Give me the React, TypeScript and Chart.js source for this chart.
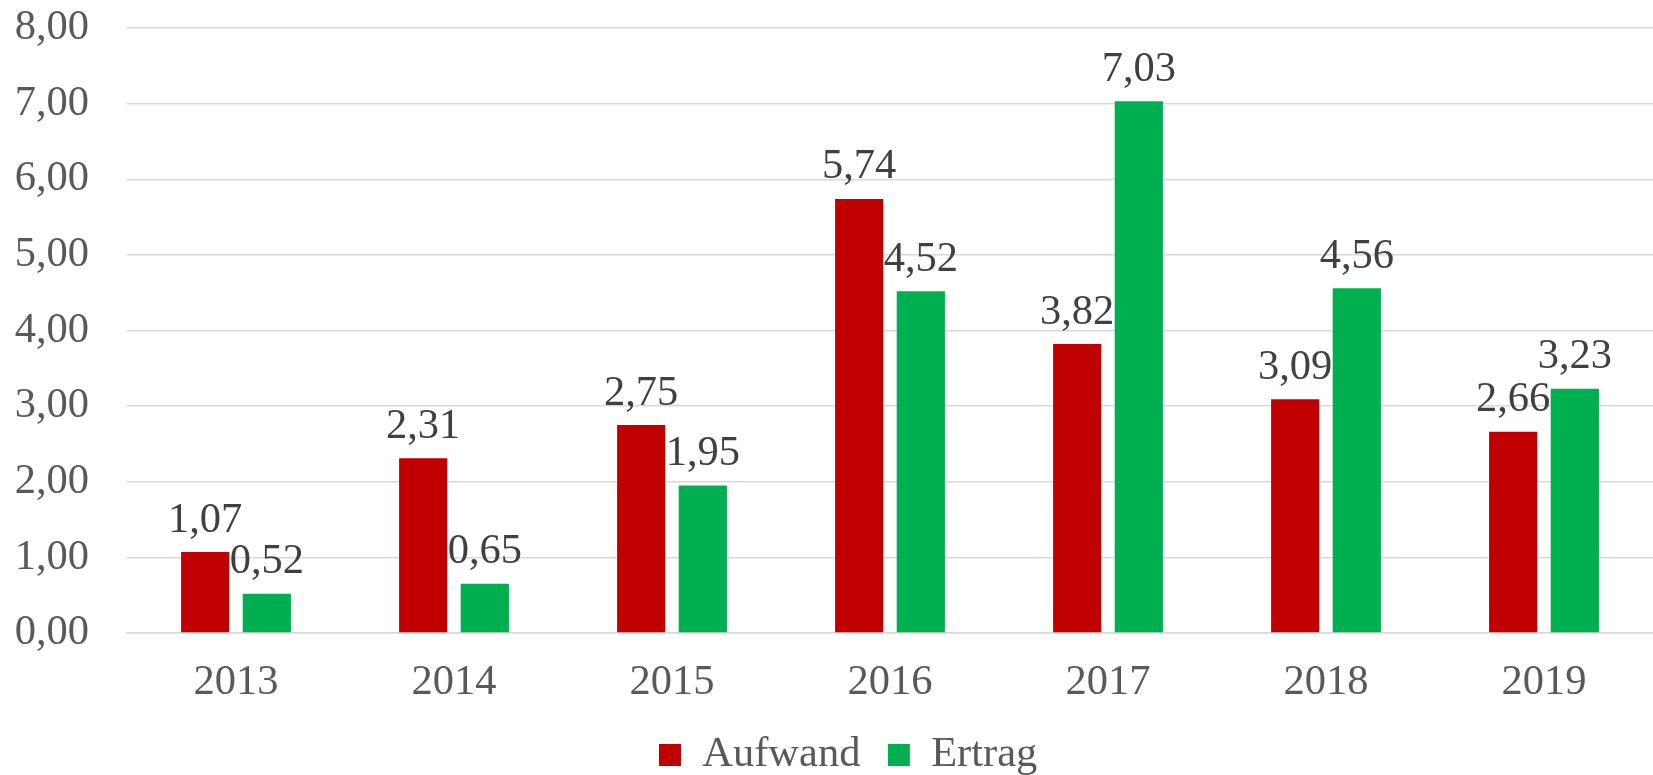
import React, { useEffect, useRef } from 'react';
import { Chart, registerables } from 'chart.js';

Chart.register(...registerables);

const categories = ['2013', '2014', '2015', '2016', '2017', '2018', '2019'];
const aufwand = [1.07, 2.31, 2.75, 5.74, 3.82, 3.09, 2.66];
const ertrag = [0.52, 0.65, 1.95, 4.52, 7.03, 4.56, 3.23];
const seriesNames = ['Aufwand', 'Ertrag'];
const seriesColors = ['#C00000', '#00B050'];
const yMin = 0;
const yMax = 8;
const yStep = 1;

const FONT = '"Liberation Serif", "Times New Roman", serif';
const FS = 42.5;
const fmt = (v: number) => v.toFixed(2).replace('.', ',');

const dataLabelPlugin = {
  id: 'dataLabels',
  afterDatasetsDraw(chart: any) {
    const ctx = chart.ctx;
    ctx.save();
    ctx.font = `${FS}px ${FONT}`;
    ctx.fillStyle = '#404040';
    ctx.textAlign = 'center';
    ctx.textBaseline = 'alphabetic';
    chart.data.datasets.forEach((ds: any, i: number) => {
      const meta = chart.getDatasetMeta(i);
      meta.data.forEach((bar: any, j: number) => {
        ctx.fillText(fmt(ds.data[j]), bar.x, bar.y - 20.5);
      });
    });
    ctx.restore();
  },
};

const legendShiftPlugin = {
  id: 'legendShift',
  afterLayout(chart: any) {
    const lg = chart.legend;
    if (!lg) return;
    const dx = 17;
    const dy = 11.25;
    lg.left += dx;
    lg.right += dx;
    lg.top += dy;
    lg.bottom += dy;
  },
};

export default function App() {
  const ref = useRef<HTMLCanvasElement>(null);
  useEffect(() => {
    document.body.style.margin = '0';
    const chart = new Chart(ref.current!, {
      type: 'bar',
      data: {
        labels: categories,
        datasets: [
          {
            label: seriesNames[0],
            data: aufwand,
            backgroundColor: seriesColors[0],
            categoryPercentage: 0.5654,
            barPercentage: 0.782,
          },
          {
            label: seriesNames[1],
            data: ertrag,
            backgroundColor: seriesColors[1],
            categoryPercentage: 0.5654,
            barPercentage: 0.782,
          },
        ],
      },
      options: {
        responsive: false,
        animation: false,
        devicePixelRatio: 1,
        layout: { padding: { top: 28, left: 0, right: -9.3, bottom: 0 } },
        plugins: {
          tooltip: { enabled: false },
          legend: {
            position: 'bottom',
            labels: {
              font: { family: FONT, size: FS },
              color: '#595959',
              boxWidth: 22,
              boxHeight: 22,
              padding: 27.5,
            },
          },
        },
        scales: {
          x: {
            grid: { display: false, drawTicks: false },
            border: { display: true, color: '#d9d9d9', width: 1.5 },
            ticks: {
              font: { family: FONT, size: FS },
              color: '#595959',
              padding: 24,
              maxRotation: 0,
            },
            afterFit(scale: any) {
              scale.height = 62;
            },
          },
          y: {
            min: yMin,
            max: yMax,
            grid: { color: '#d9d9d9', lineWidth: 1.5, drawTicks: false },
            border: { display: false },
            ticks: {
              stepSize: yStep,
              font: { family: FONT, size: FS },
              color: '#595959',
              padding: 38,
              callback: (v: any) => fmt(Number(v)),
            },
            afterFit(scale: any) {
              scale.width = 127;
              scale.paddingTop = 0;
              scale.paddingBottom = 0;
            },
          },
        },
      },
      plugins: [dataLabelPlugin, legendShiftPlugin],
    });
    return () => chart.destroy();
  }, []);
  return (
    <div style={{ width: 1653, height: 775, background: '#fff', overflow: 'hidden' }}>
      <canvas ref={ref} width={1653} height={775} style={{ display: 'block' }} />
    </div>
  );
}
